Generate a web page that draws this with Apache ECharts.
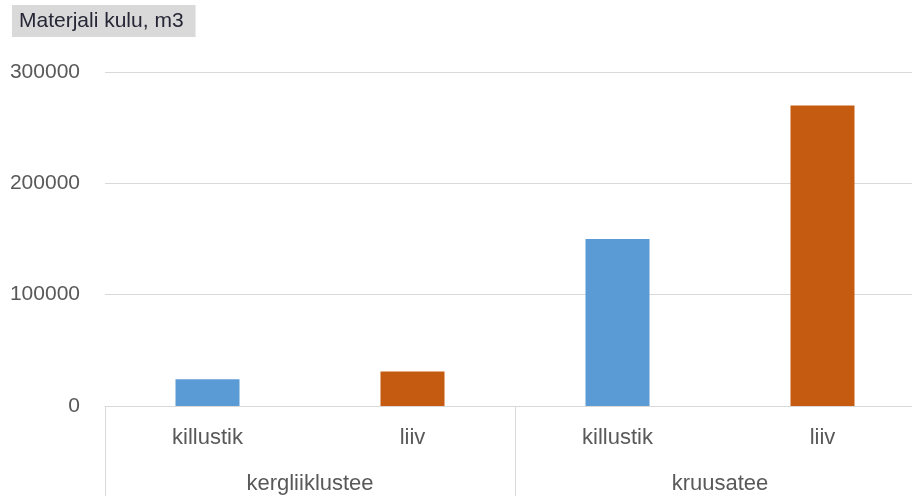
<!DOCTYPE html>
<html>
<head>
<meta charset="utf-8">
<script src="https://cdn.jsdelivr.net/npm/echarts@6/dist/echarts.min.js"></script>
<style>
  html, body { margin: 0; padding: 0; background: #fff; overflow: hidden; }
  #chart { width: 930px; height: 496px; }
</style>
</head>
<body>
<div id="chart"></div>
<script>
// chart data
const materials = ['killustik', 'liiv', 'killustik', 'liiv'];
const roadTypes = ['kergliiklustee', 'kruusatee'];
const volumes = [24000, 31000, 150000, 270000];
const yTicks = [0, 100000, 200000, 300000];

const materialColors = { killustik: '#5b9bd5', liiv: '#c55a11' };
const font = 'Liberation Sans, Arial, sans-serif';
const gray = '#d9d9d9';

// the plot runs past the right edge of the picture, as in the reference
const chart = echarts.init(document.getElementById('chart'), null, { renderer: 'canvas' });

const option = {
  animation: false,
  title: {
    text: 'Materjali kulu, m3',
    left: 12,
    top: 5,
    padding: [6, 12, 5, 7],
    backgroundColor: '#d9d9d9',
    textStyle: { fontFamily: font, fontSize: 21, fontWeight: 'normal', color: '#262636' }
  },
  grid: { left: 105, top: 72, width: 820, height: 334 },
  xAxis: [
    {
      type: 'category',
      position: 'bottom',
      data: materials,
      axisLine: { lineStyle: { color: gray, width: 1 } },
      axisTick: { show: false },
      axisLabel: { margin: 21, color: '#595959', fontFamily: font, fontSize: 22 }
    },
    {
      type: 'category',
      position: 'bottom',
      data: roadTypes,
      axisLine: { show: false },
      axisTick: { show: true, length: 92, lineStyle: { color: gray } },
      axisLabel: { margin: 67, color: '#595959', fontFamily: font, fontSize: 22 }
    }
  ],
  yAxis: {
    type: 'value',
    min: yTicks[0],
    max: yTicks[yTicks.length - 1],
    interval: yTicks[1] - yTicks[0],
    axisLine: { show: false },
    axisTick: { show: false },
    splitLine: { lineStyle: { color: gray } },
    axisLabel: {
      margin: 25,
      color: '#595959',
      fontFamily: font,
      fontSize: 21,
      formatter: v => String(v)
    }
  },
  series: [
    {
      type: 'bar',
      xAxisIndex: 0,
      barWidth: 64,
      data: volumes.map((v, i) => ({
        value: v,
        itemStyle: { color: materialColors[materials[i]] }
      }))
    }
  ]
};

chart.setOption(option);
</script>
</body>
</html>
